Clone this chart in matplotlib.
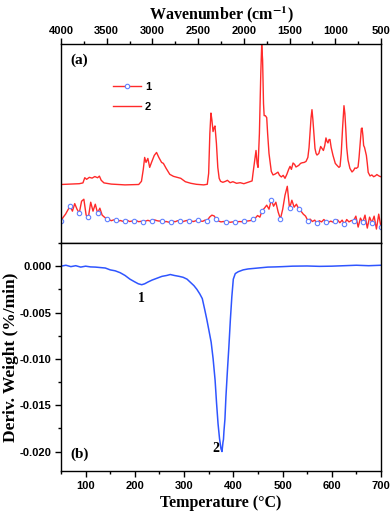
import matplotlib
matplotlib.use("Agg")
import matplotlib.pyplot as plt
from matplotlib.ticker import MultipleLocator, FormatStrFormatter
import numpy as np

plt.rcParams['axes.unicode_minus'] = False
plt.rcParams['mathtext.fontset'] = 'stix'

# ---------------- Panel (a): FTIR spectra ----------------
wn_2 = [4000, 3900, 3800, 3760, 3740, 3720, 3690, 3660, 3630, 3600, 3580, 3560, 3530, 3450,
        3300, 3150, 3120, 3100, 3085, 3070, 3050, 3030, 3010, 2980, 2955, 2930, 2900, 2880,
        2850, 2810, 2770, 2730, 2690, 2640, 2580, 2520, 2440, 2400, 2385, 2372, 2360, 2350,
        2337, 2325, 2316, 2300, 2285, 2270, 2255, 2230, 2200, 2180, 2150, 2120, 2080, 2040,
        2000, 1960, 1930, 1910, 1900, 1880, 1867, 1855, 1845, 1830, 1815, 1805, 1795, 1785,
        1778, 1765, 1750, 1740, 1725, 1714, 1700, 1681, 1660, 1640, 1627, 1610, 1590, 1570,
        1550, 1530, 1510, 1495, 1480, 1462, 1445, 1430, 1400, 1380, 1364, 1340, 1320, 1300,
        1287, 1277, 1265, 1255, 1245, 1232, 1222, 1210, 1200, 1180, 1160, 1145, 1130, 1115,
        1102, 1090, 1080, 1068, 1058, 1045, 1025, 1000, 981, 960, 948, 935, 920, 905, 895,
        885, 875, 861, 840, 817, 800, 785, 770, 751, 740, 728, 715, 707, 698, 690, 680, 670,
        660, 650, 640, 620, 600, 580, 560, 545, 533, 515, 500]
ab_2 = [29.4, 29.6, 29.8, 30.2, 32.8, 32.0, 33.0, 32.6, 33.4, 32.8, 33.6, 31.5, 30.2, 29.6,
        29.2, 29.4, 31.0, 37.0, 43.0, 40.5, 42.5, 38.0, 40.5, 44.0, 45.5, 43.0, 40.5, 40.0,
        37.5, 34.5, 33.5, 33.0, 32.5, 30.8, 30.0, 29.5, 29.2, 29.5, 35.0, 55.0, 65.3, 62.0,
        56.0, 58.0, 58.8, 50.0, 38.0, 32.5, 31.0, 30.5, 31.0, 31.5, 30.3, 30.8, 30.0, 30.3,
        29.8, 30.4, 30.8, 31.2, 35.0, 42.0, 46.5, 40.0, 38.0, 55.0, 85.0, 99.5, 92.0, 70.0,
        64.0, 64.0, 63.0, 55.0, 45.0, 41.0, 36.0, 34.2, 34.6, 35.2, 35.6, 34.0, 33.2, 34.0,
        32.5, 34.5, 37.0, 38.5, 37.0, 40.2, 39.5, 38.2, 39.0, 40.0, 40.3, 40.5, 41.0, 43.0,
        48.0, 55.0, 63.0, 67.0, 62.0, 54.0, 47.5, 45.0, 44.2, 45.0, 48.5, 47.5, 46.5, 49.0,
        52.8, 51.0, 50.3, 52.0, 52.0, 48.0, 44.0, 40.0, 39.0, 38.0, 38.5, 45.0, 58.0, 69.0, 65.0,
        57.0, 48.0, 41.7, 37.5, 35.7, 36.5, 37.7, 37.5, 38.2, 43.0, 50.0, 57.5, 57.8, 54.0, 49.0, 48.0, 46.0,
        44.0, 40.0, 35.5, 33.7, 34.2, 33.3, 33.8, 34.4, 34.0, 33.5, 33.3]

wn_1 = list(range(4000, 499, -25))
ab_1 = [11.1, 13.0, 14.5, 16.6, 18.5, 16.0, 19.8, 17.0, 15.1, 21.0,
        22.0, 14.0, 13.1, 20.5, 16.0, 19.5, 15.1, 17.5, 14.0, 13.0,
        12.1, 11.8, 11.2, 11.6, 11.6, 11.0, 11.3, 10.9, 11.1, 11.4,
        10.8, 11.0, 10.9, 11.2, 10.7, 10.9, 10.8, 11.0, 11.4, 11.0,
        11.3, 11.6, 11.2, 11.0, 11.3, 10.6, 10.8, 10.5, 10.4, 10.9,
        10.7, 11.2, 10.9, 10.6, 11.0, 11.3, 11.3, 11.0, 10.8, 11.2,
        11.4, 11.0, 10.9, 11.5, 11.3, 13.0, 14.0, 13.6, 11.9, 11.0,
        10.6, 10.8, 10.7, 10.7, 10.4, 10.6, 10.4, 10.6, 10.8, 10.7,
        11.1, 11.0, 11.1, 11.3, 11.9, 12.5, 13.8, 13.0, 16.2, 17.5,
        19.0, 17.0, 21.6, 18.5, 20.5, 15.6, 12.1, 17.0, 24.0, 28.5,
        17.4, 21.5, 18.0, 19.5, 17.1, 16.0, 14.5, 13.5, 11.2, 12.0,
        10.8, 11.5, 9.9, 11.2, 10.6, 11.8, 10.7, 10.4, 11.0, 10.5,
        11.1, 11.6, 10.2, 11.5, 9.4, 11.8, 10.6, 11.3, 11.2, 13.5,
        8.0, 12.5, 10.4, 14.0, 7.5, 13.0, 10.2, 13.5, 7.0, 14.5, 7.9]

# ---------------- Panel (b): DTG curve ----------------
temp = [50, 60, 70, 80, 90, 100, 110, 120, 130, 140, 150, 160, 170, 180, 190, 200, 207,
        214, 220, 227, 235, 245, 255, 265, 272, 280, 290, 298, 306, 312, 320, 326, 332,
        337, 342, 346, 350, 355, 359, 363, 366, 369, 372, 375, 377, 379, 380, 381, 383,
        385, 388, 391, 394, 397, 400, 404, 410, 420, 430, 440, 450, 460, 470, 485, 500,
        520, 550, 575, 600, 625, 650, 675, 700]
dtg = [0.0000, 0.0001, -0.00005, 0.00005, -0.0001, 0.0000, -0.00008, -0.0001, -0.00015,
       -0.0002, -0.0004, -0.0005, -0.0007, -0.0010, -0.0014, -0.0017, -0.0019, -0.0020,
       -0.0019, -0.0017, -0.0015, -0.0013, -0.0011, -0.0010, -0.0009, -0.0010, -0.0011,
       -0.0012, -0.0014, -0.0017, -0.0021, -0.0025, -0.0030, -0.0035, -0.0047, -0.0057,
       -0.0068, -0.0082, -0.0100, -0.0123, -0.0148, -0.0170, -0.0186, -0.0197, -0.0200,
       -0.0190, -0.0187, -0.0178, -0.0165, -0.0141, -0.0113, -0.0087, -0.0058, -0.0033,
       -0.0014, -0.0008, -0.0006, -0.0004, -0.0003, -0.00025, -0.0002, -0.00015, -0.0001,
       -0.00008, -0.00005, 0.0000, 0.00002, -0.00002, 0.0000, 0.00005, 0.0001, 0.00005, 0.0001]

red = '#ff2a2a'
blue = '#2f55ff'
tick_font = {'family': 'Liberation Sans', 'weight': 'bold', 'size': 8}
label_font = {'family': 'Liberation Serif', 'weight': 'bold', 'size': 11.5}

fig = plt.figure(figsize=(3.92, 5.15), dpi=100)
L, R = 61 / 392, 381 / 392
ya_top, ya_bot = 1 - 44 / 515, 1 - 243 / 515
yb_bot = 1 - 471 / 515
ax_a = fig.add_axes([L, ya_bot, R - L, ya_top - ya_bot])
ax_b = fig.add_axes([L, yb_bot, R - L, ya_bot - yb_bot])

# Panel (a)
ax_a.plot(wn_1, ab_1, color=red, lw=1.0, marker='o', markevery=4, ms=3.2,
          mfc='white', mec='#6080ff', mew=0.8, label='1')
ax_a.plot(wn_2, ab_2, color=red, lw=1.0, label='2')
ax_a.set_xlim(4000, 500)
ax_a.set_ylim(0, 100)
ax_a.xaxis.tick_top()
ax_a.xaxis.set_label_position('top')
ax_a.xaxis.set_major_locator(MultipleLocator(500))
ax_a.xaxis.set_minor_locator(MultipleLocator(250))
ax_a.set_yticks([])
ax_a.tick_params(axis='x', which='major', direction='out', length=4, width=1, pad=1.5)
ax_a.tick_params(axis='x', which='minor', direction='out', length=2.5, width=1)
for lab in ax_a.get_xticklabels():
    lab.set_fontproperties(tick_font)
ax_a.set_xlabel(r'Wavenumber (cm$^{\mathbf{-1}}$)', fontdict=label_font, labelpad=5)
ax_a.text(0.03, 0.92, '(a)', transform=ax_a.transAxes, fontdict={'family': 'Liberation Serif', 'weight': 'bold', 'size': 11},
          va='center', ha='left')
leg = ax_a.legend(loc='upper left', bbox_to_anchor=(0.13, 0.86), frameon=False,
                  prop={'family': 'Liberation Sans', 'weight': 'bold', 'size': 8},
                  handlelength=2.6, handletextpad=0.3, labelspacing=0.9)

# Panel (b)
ax_b.plot(temp, dtg, color=blue, lw=1.1)
ax_b.set_xlim(50, 700)
ax_b.set_ylim(-0.0221, 0.0025)
ax_b.xaxis.set_major_locator(MultipleLocator(100))
ax_b.xaxis.set_minor_locator(MultipleLocator(50))
ax_b.yaxis.set_major_locator(MultipleLocator(0.005))
ax_b.yaxis.set_minor_locator(MultipleLocator(0.0025))
ax_b.yaxis.set_major_formatter(FormatStrFormatter('%.3f'))
ax_b.tick_params(which='major', direction='out', length=4, width=1, pad=3)
ax_b.tick_params(which='minor', direction='out', length=2.5, width=1)
for lab in ax_b.get_xticklabels() + ax_b.get_yticklabels():
    lab.set_fontproperties(tick_font)
ax_b.set_xlabel('Temperature (°C)', fontdict=label_font, labelpad=3)
ax_b.set_ylabel('Deriv. Weight (%/min)', fontdict={'family': 'Liberation Serif', 'weight': 'bold', 'size': 12.5})
ax_b.yaxis.set_label_coords(-0.131, 0.5)
ax_b.text(0.03, 0.075, '(b)', transform=ax_b.transAxes, fontdict={'family': 'Liberation Serif', 'weight': 'bold', 'size': 11},
          va='center', ha='left')
ax_b.text(213, -0.0035, '1', fontdict={'family': 'Liberation Serif', 'weight': 'bold', 'size': 10}, ha='center', va='center')
ax_b.text(364, -0.0197, '2', fontdict={'family': 'Liberation Serif', 'weight': 'bold', 'size': 10}, ha='center', va='center')

for ax in (ax_a, ax_b):
    for s in ax.spines.values():
        s.set_linewidth(1.0)

fig.savefig('out.png', dpi=100)
